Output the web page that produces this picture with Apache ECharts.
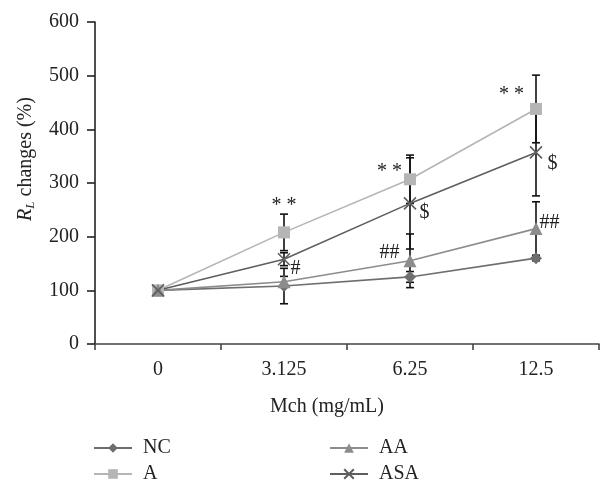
<!DOCTYPE html>
<html><head><meta charset="utf-8">
<script src="https://cdn.jsdelivr.net/npm/echarts@6/dist/echarts.min.js"></script>
<style>html,body{margin:0;padding:0;background:#fff}#c{width:612px;height:493px}</style>
</head><body><div id="c"></div>
<script>
const categories = ['0', '3.125', '6.25', '12.5'];
const seriesNames = ['NC', 'A', 'AA', 'ASA'];
const NC  = [100, 108, 125, 160];
const A   = [100, 208, 307, 438];
const AA  = [100, 116, 155, 215];
const ASA = [100, 158, 262, 357];
const NC_err  = [0, 33, 10, 5];
const A_err   = [0, 34, 45, 63];
const AA_err  = [0, 10, 50, 50];
const ASA_err = [0, 12, 85, 81];
const A_marks   = ['', '* *', '* *', '* *'];
const AA_marks  = ['', '', '##', '##'];
const ASA_marks = ['', '#', '$', '$'];
const yTicks = [0, 100, 200, 300, 400, 500, 600];

const FONT = 'Liberation Serif';
const FS = 20;
const colors = {NC:'#6e6e6e', A:'#b5b5b5', AA:'#8c8c8c', ASA:'#5e5e5e'};
const symbols = {NC:'diamond', A:'rect', AA:'triangle', ASA:'path://M0,0L10,10M10,0L0,10'};
const symbolSizes = {NC:12, A:12, AA:13, ASA:12};
const values = {NC, A, AA, ASA};
const errs = {NC:NC_err, A:A_err, AA:AA_err, ASA:ASA_err};
const marks = {NC:['','','',''], A:A_marks, AA:AA_marks, ASA:ASA_marks};
// label placement per series/point (style only)
const markPos = {
  A:   [null, {position:'top', offset:[0,-6]}, {position:'left', offset:[3,-7]}, {position:'left', offset:[-1,-14]}],
  AA:  [null, null, {position:'left', offset:[1,-8]}, {position:'right', offset:[-8,-6]}],
  ASA: [null, {position:'right', offset:[-7,10]}, {position:'right', offset:[-4,9]}, {position:'right', offset:[-2,11]}],
  NC:  [null,null,null,null]
};

const chart = echarts.init(document.getElementById('c'), null, {renderer:'canvas'});

const errData = [];
seriesNames.forEach(n => {
  values[n].forEach((v, i) => {
    if (errs[n][i] > 0) errData.push([i, v - errs[n][i], v + errs[n][i]]);
  });
});

const lineSeries = seriesNames.map(n => ({
  name: n,
  type: 'line',
  z: 3,
  symbol: symbols[n],
  symbolSize: symbolSizes[n],
  lineStyle: {color: colors[n], width: 1.6},
  itemStyle: n === 'ASA' ? {color: 'none', borderColor: colors[n], borderWidth: 1.6} : {color: colors[n], borderWidth: 0},
  data: values[n].map((v, i) => {
    const item = {value: v};
    if (marks[n][i]) {
      item.label = Object.assign({show: true, formatter: marks[n][i], fontFamily: FONT, fontSize: FS, color: '#222', distance: 5}, markPos[n][i]);
    }
    return item;
  })
}));

const legendText = {fontFamily: FONT, fontSize: FS, color: '#222', padding: [0, 0, 0, 6]};

const option = {
  animation: false,
  color: seriesNames.map(n => colors[n]),
  grid: {left: 95, right: 13, top: 22, bottom: 149, containLabel: false},
  xAxis: {
    type: 'category',
    data: categories,
    boundaryGap: true,
    name: 'Mch (mg/mL)',
    nameLocation: 'middle',
    nameGap: 53,
    nameTextStyle: {fontFamily: FONT, fontSize: FS, color: '#222', padding: [0, 40, 0, 0]},
    axisLine: {lineStyle: {color: '#444', width: 1.6}},
    axisTick: {show: true, inside: false, length: 6, alignWithLabel: false, lineStyle: {color: '#444', width: 1.6}},
    axisLabel: {fontFamily: FONT, fontSize: FS, color: '#222', margin: 16}
  },
  yAxis: {
    type: 'value',
    min: 0, max: 600, interval: 100,
    name: '{i|R}{s|L} changes (%)',
    nameLocation: 'middle',
    nameGap: 58,
    nameRotate: 90,
    nameTextStyle: {fontFamily: FONT, fontSize: FS, color: '#222', padding: [0, 0, 0, 48],
      rich: {i: {fontFamily: FONT, fontStyle: 'italic', fontSize: FS, color: '#222'},
             s: {fontFamily: FONT, fontStyle: 'italic', fontSize: 13, color: '#222', verticalAlign: 'bottom', padding: [10,0,0,0]}}},
    splitLine: {show: false},
    axisLine: {show: true, lineStyle: {color: '#222', width: 1.6}},
    axisTick: {show: true, inside: false, length: 8, lineStyle: {color: '#222', width: 1.6}},
    axisLabel: {fontFamily: FONT, fontSize: FS, color: '#222', margin: 16,
      formatter: v => yTicks.includes(v) ? String(v) : ''}
  },
  legend: [
    {data: ['NC', 'A'], orient: 'vertical', left: 93, top: 438, padding: 0, itemWidth: 38, itemHeight: 12, itemGap: 6,
     height: 60, textStyle: legendText},
    {data: ['AA', 'ASA'], orient: 'vertical', left: 329, top: 438, padding: 0, itemWidth: 38, itemHeight: 12, itemGap: 6,
     height: 60, textStyle: legendText}
  ],
  series: [
    {
      type: 'custom',
      z: 2,
      silent: true,
      data: errData,
      renderItem: (params, api) => {
        const x = api.value(0);
        const lo = api.coord([x, api.value(1)]);
        const hi = api.coord([x, api.value(2)]);
        const w = 4;
        const st = {stroke: '#111', lineWidth: 1.6};
        return {type: 'group', children: [
          {type: 'line', shape: {x1: lo[0], y1: lo[1], x2: hi[0], y2: hi[1]}, style: st},
          {type: 'line', shape: {x1: lo[0]-w, y1: lo[1], x2: lo[0]+w, y2: lo[1]}, style: st},
          {type: 'line', shape: {x1: hi[0]-w, y1: hi[1], x2: hi[0]+w, y2: hi[1]}, style: st}
        ]};
      }
    },
    ...lineSeries
  ]
};
chart.setOption(option);
</script>
</body></html>
